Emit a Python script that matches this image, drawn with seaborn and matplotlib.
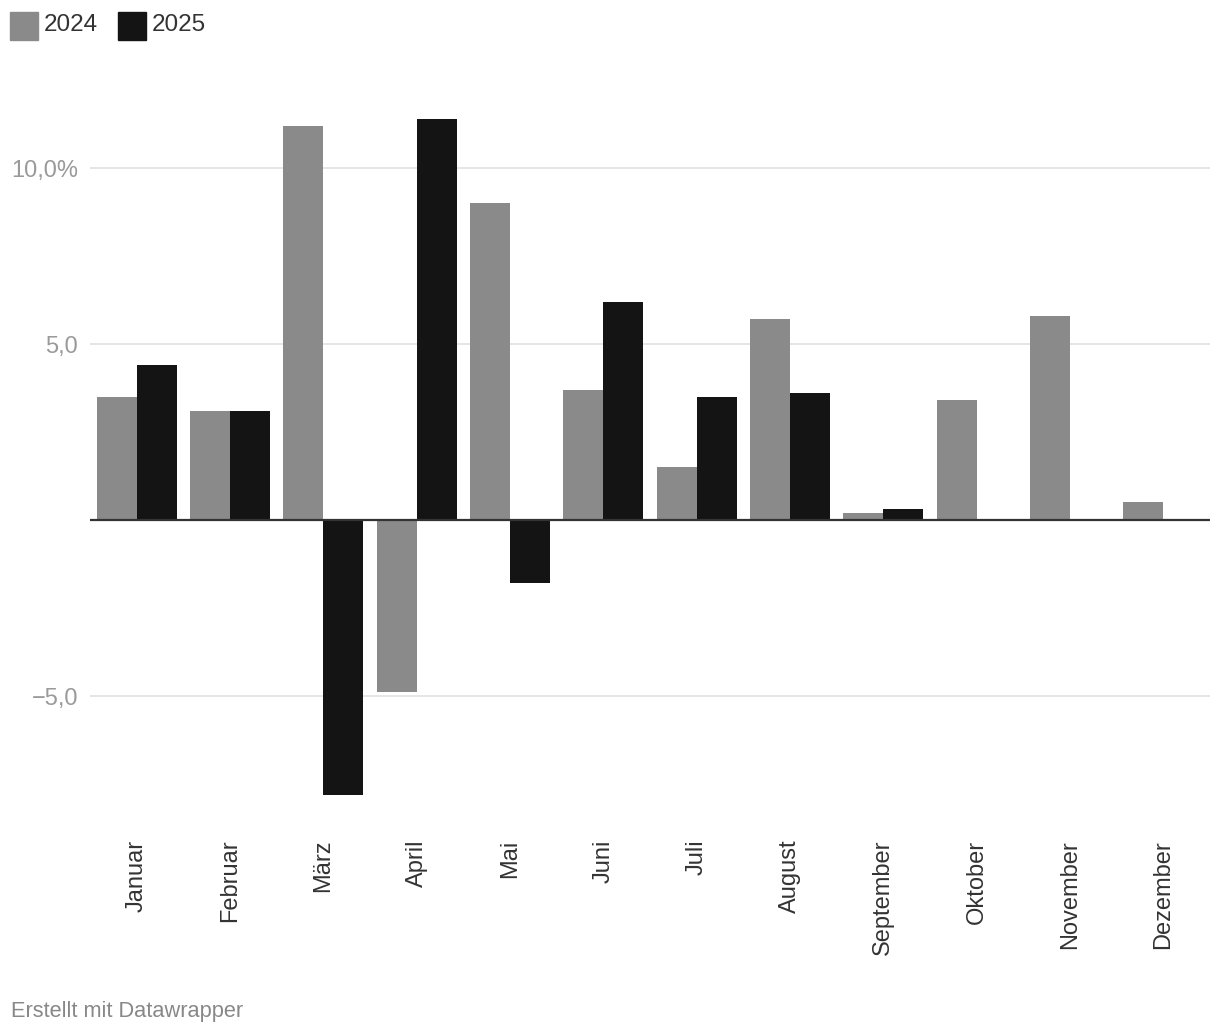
import pandas as pd
import numpy as np
import seaborn as sns
import matplotlib.pyplot as plt
from matplotlib.patches import Rectangle

monate = ['Januar', 'Februar', 'März', 'April', 'Mai', 'Juni', 'Juli',
          'August', 'September', 'Oktober', 'November', 'Dezember']
werte_2024 = [3.5, 3.1, 11.2, -4.9, 9.0, 3.7, 1.5, 5.7, 0.2, 3.4, 5.8, 0.5]
werte_2025 = [4.4, 3.1, -7.8, 11.4, -1.8, 6.2, 3.5, 3.6, 0.3, np.nan, np.nan, np.nan]
jahre = ['2024', '2025']
farben = {'2024': '#8a8a8a', '2025': '#141414'}

df = pd.DataFrame({
    'Monat': monate * 2,
    'Jahr': ['2024'] * 12 + ['2025'] * 12,
    'Wert': werte_2024 + werte_2025,
})

sns.set_style('white')
plt.rcParams['font.family'] = ['Liberation Sans', 'DejaVu Sans']

W, H = 1220, 1036
fig = plt.figure(figsize=(W / 100, H / 100), dpi=100)

# Achse in Pixeln: x 90..1210, y-Werte -8..12 (Null bei 520 px)
y0, y1 = -8, 12
px_pro_einheit = 35.2
top_px = 520 - y1 * px_pro_einheit
bot_px = 520 - y0 * px_pro_einheit
ax = fig.add_axes([90 / W, 1 - bot_px / H, 1120 / W, (bot_px - top_px) / H])

sns.barplot(data=df, x='Monat', y='Wert', hue='Jahr', hue_order=jahre,
            palette=farben, width=0.857, gap=0, saturation=1,
            linewidth=0, edgecolor='none',
            legend=False, ax=ax, zorder=3)

ax.set_ylim(y0, y1)
ax.set_xlim(-0.5, 11.5)
for s in ax.spines.values():
    s.set_visible(False)

ax.set_yticks([-5, 5, 10])
ax.set_yticklabels(['\u22125,0', '5,0', '10,0%'])
ax.yaxis.grid(True, color='#e2e2e2', linewidth=1.2, zorder=0)
ax.axhline(0, color='#333333', linewidth=1.6, zorder=4)
ax.tick_params(axis='y', length=0, pad=8.6, labelsize=17, labelcolor='#9a9a9a')
ax.tick_params(axis='x', length=0, pad=27.5, labelsize=17, labelcolor='#333333',
               labelrotation=90)
ax.set_xlabel('')
ax.set_ylabel('')

# Legende oben links
for i, jahr in enumerate(jahre):
    x = 10 + i * 108
    fig.patches.append(Rectangle((x / W, 1 - 40 / H), 28 / W, 28 / H,
                                 transform=fig.transFigure,
                                 color=farben[jahr], zorder=5))
    fig.text((x + 34) / W, 1 - 25 / H, jahr, fontsize=17.5, color='#333333',
             va='center', ha='left')

fig.text(11 / W, 1 - 1011 / H, 'Erstellt mit Datawrapper', fontsize=15.7,
         color='#888888', va='center', ha='left')

fig.savefig('out.png', dpi=100)
